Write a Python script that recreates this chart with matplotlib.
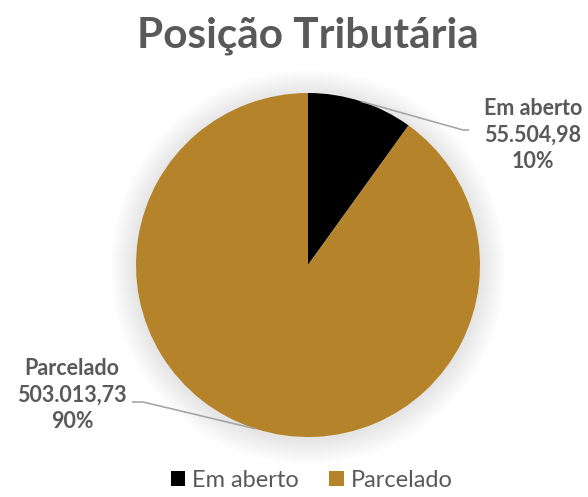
import numpy as np
import matplotlib.pyplot as plt
from matplotlib.patches import Circle, Patch

plt.rcParams['font.family'] = ['Lato', 'DejaVu Sans']

categories = ['Em aberto', 'Parcelado']
values = [55504.98, 503013.73]
value_labels = ['55.504,98', '503.013,73']
pct_labels = ['10%', '90%']
colors = ['#000000', '#B5832A']

W, H = 588, 497
fig = plt.figure(figsize=(W / 100, H / 100), dpi=100)
ax = fig.add_axes([0, 0, 1, 1])

cx, cy, r = 308, 232, 172

# sombra suave em volta da pizza
for k in range(26):
    ax.add_patch(Circle((cx, cy - 2), r + 26 - k, color='#000000', alpha=0.005, lw=0, zorder=0))

wedges, _ = ax.pie(values, colors=colors, startangle=90, counterclock=False,
                   center=(cx, cy), radius=r, wedgeprops=dict(linewidth=0))
ax.set_xlim(0, W)
ax.set_ylim(0, H)
ax.set_aspect('equal')
ax.axis('off')

txt_color = '#595959'
line_color = '#A6A6A6'

# posicoes dos rotulos: (texto x, texto y, cotovelo, fim da linha)
label_pos = [
    dict(tx=533, ty=362, elbow=(463, 367), end=(469, 367)),
    dict(tx=72, ty=102, elbow=(143, 95), end=(132, 95)),
]

for w, cat, vl, pl, lp in zip(wedges, categories, value_labels, pct_labels, label_pos):
    ang = np.deg2rad((w.theta1 + w.theta2) / 2)
    ex, ey = cx + r * np.cos(ang), cy + r * np.sin(ang)
    ax.plot([ex, lp['elbow'][0], lp['end'][0]], [ey, lp['elbow'][1], lp['end'][1]],
            color=line_color, lw=1.2, zorder=3, solid_capstyle='butt')
    ax.text(lp['tx'], lp['ty'], f'{cat}\n{vl}\n{pl}', ha='center', va='center',
            fontsize=15.5, fontweight='bold', color=txt_color, linespacing=1.3)

fig.text(0.524, 0.928, 'Posição Tributária', ha='center', va='center',
         fontsize=30.5, fontweight='bold', color=txt_color)

handles = [Patch(facecolor=c, edgecolor='none') for c in colors]
leg = fig.legend(handles, categories, loc='lower center', bbox_to_anchor=(0.53, -0.03),
                 ncol=2, frameon=False, fontsize=17, handlelength=0.6, handleheight=0.6,
                 handletextpad=0.3, columnspacing=1.3)
for t in leg.get_texts():
    t.set_color(txt_color)

fig.savefig('out.png', dpi=100, facecolor='white')
